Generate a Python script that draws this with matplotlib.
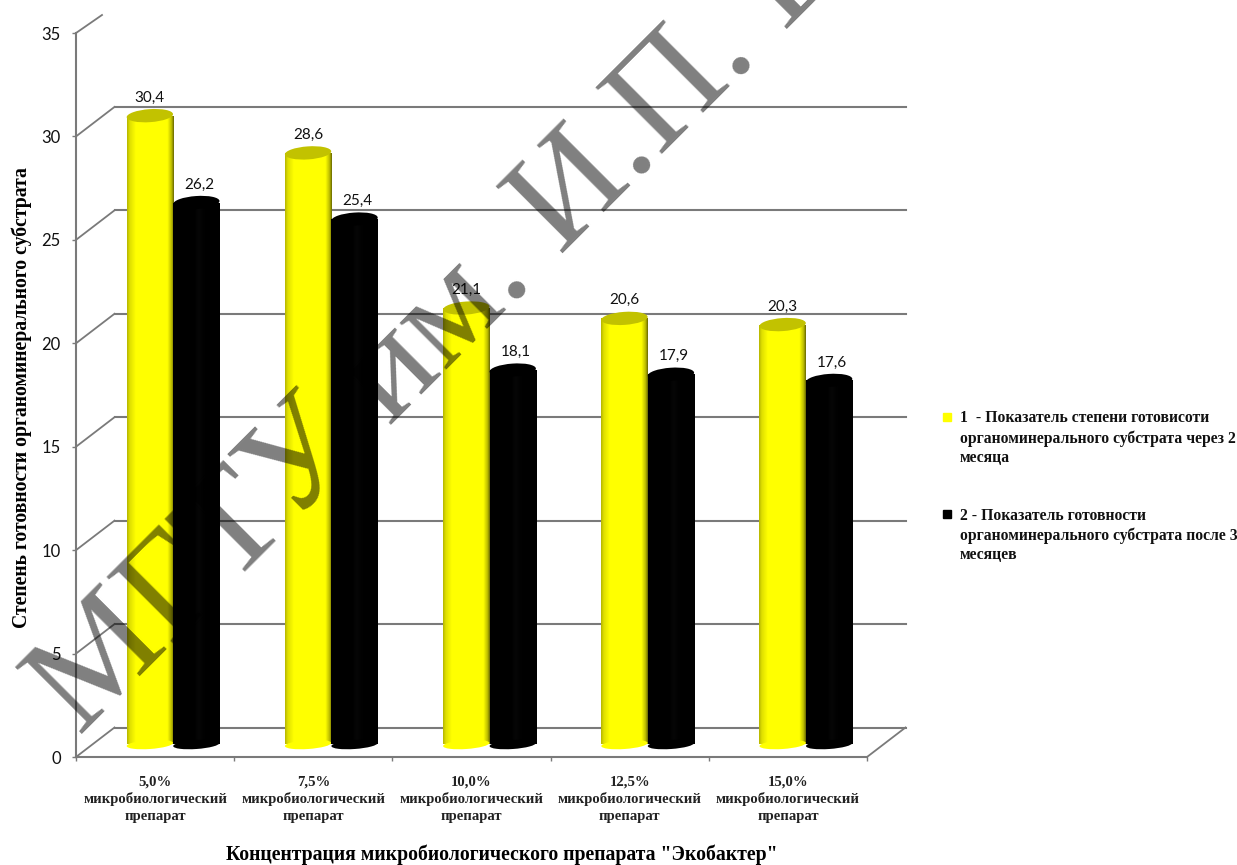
import matplotlib
matplotlib.use("Agg")
import matplotlib.pyplot as plt
import numpy as np
from matplotlib.colors import LinearSegmentedColormap
from matplotlib.lines import Line2D
from matplotlib.patches import Circle
from matplotlib.transforms import Affine2D, ScaledTranslation

categories = ["5,0%", "7,5%", "10,0%", "12,5%", "15,0%"]
months_2 = [30.4, 28.6, 21.1, 20.6, 20.3]
months_3 = [26.2, 25.4, 18.1, 17.9, 17.6]
yticks = [0, 5, 10, 15, 20, 25, 30, 35]

label_2 = "1  - Показатель степени готовисоти\nорганоминерального субстрата через 2\nмесяца"
label_3 = "2 - Показатель готовности\nорганоминерального субстрата после 3\nмесяцев"
ylabel = "Степень готовности органоминерального субстрата"
xlabel = 'Концентрация микробиологического препарата "Экобактер"'
stamp = "МГТУ им. И.П. Б"

SERIF = "Liberation Serif"
SANS = "Lato"
GRID = "#7a7a7a"

yellow_cmap = LinearSegmentedColormap.from_list(
    "cyl_y", [(0, "#b8b800"), (0.05, "#dede00"), (0.18, "#ffff00"), (0.87, "#ffff00"), (0.96, "#b8b800"), (1, "#707000")])
black_cmap = LinearSegmentedColormap.from_list(
    "cyl_k", [(0, "#000000"), (0.45, "#000000"), (0.55, "#060606"), (0.7, "#000000"), (1, "#000000")])

fig = plt.figure(figsize=(12.37, 8.65), dpi=100)
ax = fig.add_axes([76 / 1237, 1 - 757 / 865, (867 - 76) / 1237, (757 - 33) / 865])
ax.set_xlim(0, 5)
ax.set_ylim(0, 35)

# depth of the fake 3D box, in pixels
back = Affine2D().translate(38.5, 29.5)
mid = Affine2D().translate(18, 12.5)

# back wall and side lines
for v in yticks[:-1]:
    ax.plot([0, 5], [v, v], color=GRID, lw=1.5, transform=ax.transData + back, clip_on=False, zorder=1)
    p0 = ax.transData.transform((0, v))
    ax.add_line(Line2D([0, 38.5], [0, 29.5], color=GRID, lw=1.3, clip_on=False, zorder=1,
                       transform=Affine2D().translate(*p0)))
p0 = ax.transData.transform((0, 35))
ax.add_line(Line2D([0, 26], [0, 18], color=GRID, lw=1.3, clip_on=False, zorder=1,
                   transform=Affine2D().translate(*p0)))
p0 = ax.transData.transform((5, 0))
ax.add_line(Line2D([0, 38.5], [0, 29.5], color=GRID, lw=1.3, clip_on=False, zorder=1,
                   transform=Affine2D().translate(*p0)))

bar_w = 46.5 / (791 / 5)
grad = np.linspace(0, 1, 64).reshape(1, -1)


def cylinder(x, v, cmap, top, bottom, z):
    tr = ax.transData + mid
    bar = ax.bar(x, v, width=bar_w, color="none", transform=tr, clip_on=False, zorder=z)[0]
    im = ax.imshow(grad, cmap=cmap, aspect="auto", zorder=z, transform=tr,
                   extent=(x - bar_w / 2, x + bar_w / 2, 0, v))
    im.set_clip_path(bar)
    # ellipses are set in pixels around the ends of the column
    for yv, col, h in ((0, bottom, 4.5), (v, top, 6.5)):
        e = Circle((0, 0), 1, facecolor=col, edgecolor="none", zorder=z + 0.1,
                   transform=Affine2D().scale(23.2, h).rotate_deg(4) + ScaledTranslation(x, yv, tr))
        ax.add_patch(e)


centers = np.arange(5) + 0.5
for i in range(5):
    x2 = centers[i] - bar_w / 2
    x3 = centers[i] + bar_w / 2
    cylinder(x2, months_2[i], yellow_cmap, "#c2c200", "#ffff00", 3)
    cylinder(x3, months_3[i], black_cmap, "#000000", "#000000", 4)
    for x, v, dx in ((x2, months_2[i], 0), (x3, months_3[i], 3)):
        px = (ax.transData + mid).transform((x, v))
        ax.annotate(f"{v:.1f}".replace(".", ","), xy=px, xycoords="figure pixels", xytext=(dx, 11),
                    textcoords="offset pixels", ha="center", va="bottom", fontsize=11,
                    family=SANS, color="#111111", zorder=6)
ax.set_xlim(0, 5)
ax.set_ylim(0, 35)

for s in ("top", "right"):
    ax.spines[s].set_visible(False)
for s in ("left", "bottom"):
    ax.spines[s].set_color(GRID)
    ax.spines[s].set_linewidth(1.5)
ax.patch.set_alpha(0)

ax.set_yticks(yticks)
ax.set_yticklabels(yticks, family=SANS, fontsize=12, color="#111111")
ax.tick_params(axis="y", color=GRID, length=3, width=1, pad=8)
ax.set_xticks(range(6))
ax.set_xticklabels([])
ax.tick_params(axis="x", which="major", color=GRID, length=3, width=1)
ax.set_xticks(centers, minor=True)
ax.set_xticklabels([c + "\nмикробиологический\nпрепарат" for c in categories], minor=True,
                   family=SERIF, fontsize=10.6, fontweight="bold", linespacing=1.38, color="#222222")
ax.tick_params(axis="x", which="minor", length=0, pad=13)

fig.text(22 / 1237, 1 - 398 / 865, ylabel, rotation=90, ha="center", va="center",
         family=SERIF, fontsize=14.2, fontweight="bold")
fig.text(502 / 1237, 1 - 855 / 865, xlabel, ha="center", va="center",
         family=SERIF, fontsize=14.2, fontweight="bold")

# legend block: marker beside the first line of each label
for label, col, y in ((label_2, "#ffff00", 417), (label_3, "#000000", 514)):
    fig.add_artist(Line2D([947 / 1237], [1 - y / 865], ls="none", marker="s", ms=6, color=col,
                          transform=fig.transFigure))
    fig.text(960 / 1237, 1 - (y - 6.5) / 865, label, ha="left", va="top", family=SERIF, fontsize=11.3,
             fontweight="bold", linespacing=1.3, color="#111111")

fig.text(80 / 1237, 1 - 737 / 865, stamp, rotation=45, rotation_mode="anchor", ha="left", va="baseline",
         family=SERIF, fontsize=104, color="black", alpha=0.5, zorder=10)

fig.savefig("out.png", dpi=100)
